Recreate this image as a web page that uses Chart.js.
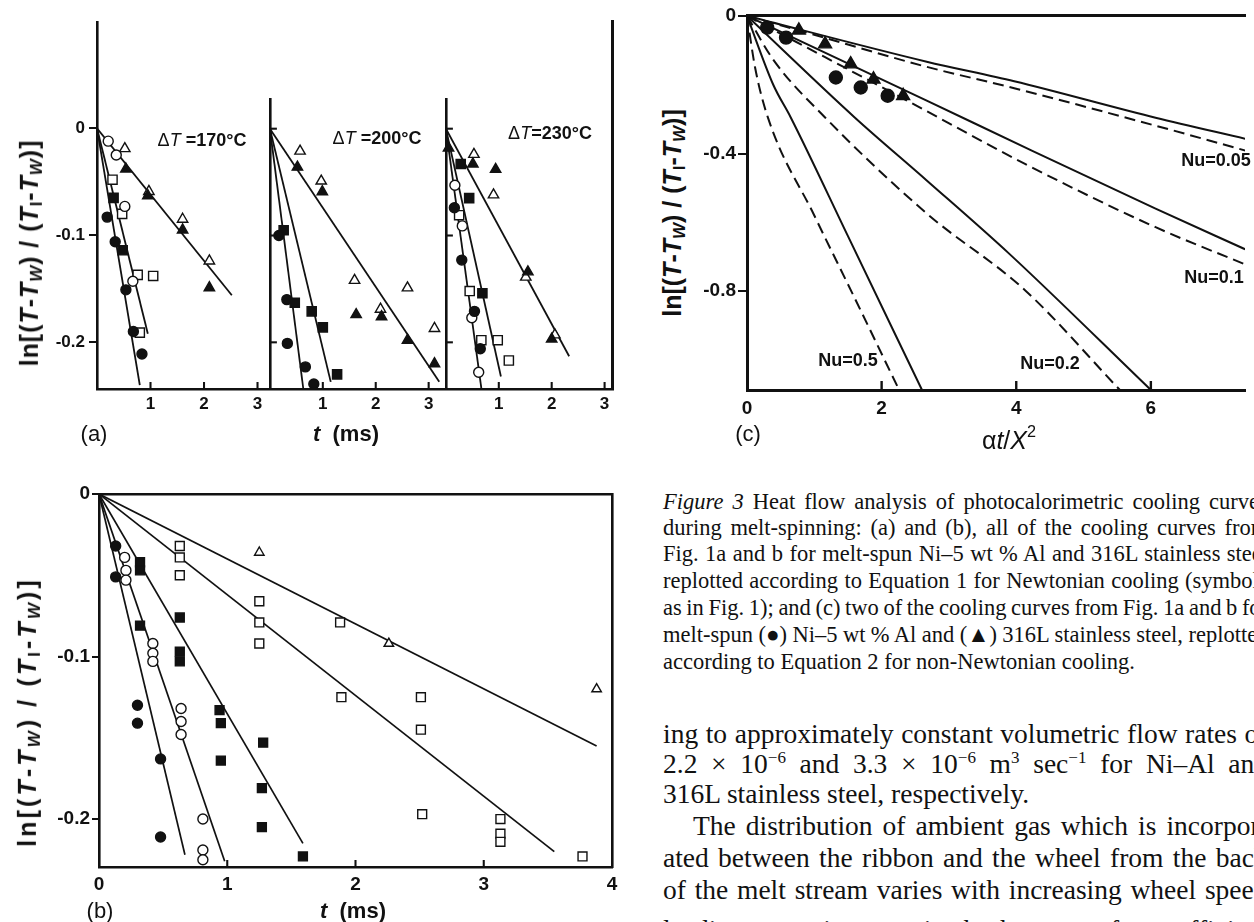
<!DOCTYPE html>
<html>
<head>
<meta charset="utf-8">
<script src="https://cdn.jsdelivr.net/npm/chart.js@4.4.1/dist/chart.umd.min.js"></script>
<style>
  html, body { margin: 0; padding: 0; background: #fff; }
  body { width: 1254px; height: 922px; position: relative; overflow: hidden; color: #111;
         font-family: "Liberation Sans", Arial, sans-serif; }
  canvas { position: absolute; }
  .lbl { position: absolute; white-space: nowrap; line-height: 1; transform: translate(-50%, -50%); font-weight: bold; }
  .ytitle { position: absolute; white-space: nowrap; line-height: 1; font-weight: bold;
            transform: translate(-50%, -50%) rotate(-90deg); }
  .ytitle sub { font-size: 0.68em; vertical-align: -0.25em; }
  .txt { position: absolute; white-space: pre; line-height: 1; font-family: "Liberation Serif", "Times New Roman", serif; }
  .txt sup { font-size: 0.62em; vertical-align: 0.6em; line-height: 0; }
  .frame { position: absolute; background: #111; }
</style>
</head>
<body>

<!-- panel (a) -->
<canvas id="a170"></canvas>
<canvas id="a200"></canvas>
<canvas id="a230"></canvas>
<div class="frame" style="left:611px; top:20px; width:2.5px; height:370px;"></div>
<div class="ytitle" id="ytA" style="left:31px; top:253px; font-size:21px;">ln[(<i>T</i>-<i>T</i><sub><i>W</i></sub>) / (<i>T</i><sub>I</sub>-<i>T</i><sub><i>W</i></sub>)]</div>
<div class="lbl" style="left:202px; top:140px; font-size:18px;"><span style="font-weight:normal">Δ<i>T</i></span> =170°C</div>
<div class="lbl" style="left:377px; top:138px; font-size:18px;"><span style="font-weight:normal">Δ<i>T</i></span> =200°C</div>
<div class="lbl" style="left:550px; top:133px; font-size:18px;"><span style="font-weight:normal">Δ<i>T</i></span>=230°C</div>
<div class="lbl" style="left:94px; top:434px; font-size:22px; font-weight:normal;">(a)</div>
<div class="lbl" style="left:346px; top:434px; font-size:22px;"><i>t</i>&nbsp; (ms)</div>

<!-- panel (b) -->
<canvas id="bchart"></canvas>
<div class="ytitle" id="ytB" style="left:29px; top:712px; font-size:21px;">ln[(<i>T</i>-<i>T</i><sub><i>W</i></sub>) / (<i>T</i><sub>I</sub>-<i>T</i><sub><i>W</i></sub>)]</div>
<div class="lbl" style="left:100px; top:911px; font-size:22px; font-weight:normal;">(b)</div>
<div class="lbl" style="left:353px; top:911px; font-size:22px;"><i>t</i>&nbsp; (ms)</div>

<!-- panel (c) -->
<canvas id="cchart"></canvas>
<div class="ytitle" id="ytC" style="left:674px; top:213px; font-size:21px;">ln[(<i>T</i>-<i>T</i><sub><i>W</i></sub>) / (<i>T</i><sub>I</sub>-<i>T</i><sub><i>W</i></sub>)]</div>
<div class="lbl" style="left:1216px; top:160px; font-size:18px;">Nu=0.05</div>
<div class="lbl" style="left:1214px; top:277px; font-size:18px;">Nu=0.1</div>
<div class="lbl" style="left:1050px; top:363px; font-size:18px;">Nu=0.2</div>
<div class="lbl" style="left:848px; top:360px; font-size:18px;">Nu=0.5</div>
<div class="lbl" style="left:748px; top:434px; font-size:22px; font-weight:normal;">(c)</div>
<div class="lbl" style="left:1009px; top:440px; font-size:25px; font-weight:normal;">α<i>t</i>/<i>X</i><sup style="font-size:0.65em; vertical-align:0.7em; line-height:0">2</sup></div>

<!-- caption and running text -->
<div class="txt cap" data-w="605" style="left:663px; top:491px; font-size:22.5px;"><i>Figure 3</i> Heat flow analysis of photocalorimetric cooling curves</div>
<div class="txt cap" data-w="605" style="left:663px; top:517px; font-size:22.5px;">during melt-spinning: (a) and (b), all of the cooling curves from</div>
<div class="txt cap" data-w="605" style="left:663px; top:543px; font-size:22.5px;">Fig. 1a and b for melt-spun Ni–5 wt % Al and 316L stainless steel</div>
<div class="txt cap" data-w="605" style="left:663px; top:570px; font-size:22.5px;">replotted according to Equation 1 for Newtonian cooling (symbols</div>
<div class="txt cap" data-w="605" style="left:663px; top:597px; font-size:22.5px;">as in Fig. 1); and (c) two of the cooling curves from Fig. 1a and b for</div>
<div class="txt cap" data-w="605" style="left:663px; top:624px; font-size:22.5px;">melt-spun (●) Ni–5 wt % Al and (▲) 316L stainless steel, replotted</div>
<div class="txt" style="left:663px; top:651px; font-size:22.5px;">according to Equation 2 for non-Newtonian cooling.</div>

<div class="txt cap" data-w="605" style="left:663px; top:720px; font-size:27.5px;">ing to approximately constant volumetric flow rates of</div>
<div class="txt cap" data-w="605" style="left:663px; top:750px; font-size:27.5px;">2.2 × 10<sup>−6</sup> and 3.3 × 10<sup>−6</sup> m<sup>3</sup> sec<sup>−1</sup> for Ni–Al and</div>
<div class="txt" style="left:663px; top:780px; font-size:27.5px;">316L stainless steel, respectively.</div>
<div class="txt cap" data-w="575" style="left:693px; top:812px; font-size:27.5px;">The distribution of ambient gas which is incorpor-</div>
<div class="txt cap" data-w="605" style="left:663px; top:844px; font-size:27.5px;">ated between the ribbon and the wheel from the back</div>
<div class="txt cap" data-w="605" style="left:663px; top:876px; font-size:27.5px;">of the melt stream varies with increasing wheel speed</div>
<div class="txt cap" data-w="605" style="left:663px; top:916px; font-size:27.5px;">leading to an increase in the heat transfer coefficient</div>

<script>
// ---------- data: panel (a), t in ms vs ln[(T-Tw)/(TI-Tw)] ----------
// dT = 170 C
const a170_fCircle = [[0.19,-0.083],[0.34,-0.106],[0.54,-0.151],[0.68,-0.190],[0.84,-0.211]];
const a170_oCircle = [[0.21,-0.012],[0.36,-0.025],[0.52,-0.073],[0.67,-0.143]];
const a170_fSquare = [[0.31,-0.065],[0.48,-0.114]];
const a170_oSquare = [[0.29,-0.048],[0.47,-0.080],[0.76,-0.137],[1.05,-0.138],[0.80,-0.191]];
const a170_fTri    = [[0.54,-0.038],[0.95,-0.063],[1.60,-0.095],[2.10,-0.149]];
const a170_oTri    = [[0.52,-0.019],[0.97,-0.059],[1.60,-0.085],[2.10,-0.124]];
const a170_fits    = [[2.52,-0.156],[0.95,-0.192],[0.80,-0.240]];
// dT = 200 C
const a200_fCircle = [[0.17,-0.100],[0.32,-0.160],[0.33,-0.201],[0.67,-0.223],[0.83,-0.239]];
const a200_fSquare = [[0.26,-0.095],[0.47,-0.163],[0.79,-0.171],[1.00,-0.186],[1.27,-0.230]];
const a200_fTri    = [[0.52,-0.036],[0.99,-0.059],[1.63,-0.174],[2.11,-0.176],[2.60,-0.198],[3.11,-0.220]];
const a200_oTri    = [[0.57,-0.021],[0.97,-0.049],[1.60,-0.142],[2.09,-0.169],[2.60,-0.149],[3.11,-0.187]];
const a200_fits    = [[3.20,-0.237],[1.15,-0.237],[0.63,-0.243]];
// dT = 230 C
const a230_fCircle = [[0.16,-0.074],[0.30,-0.123],[0.54,-0.171],[0.65,-0.206]];
const a230_oCircle = [[0.17,-0.053],[0.31,-0.091],[0.49,-0.177],[0.62,-0.228]];
const a230_fSquare = [[0.28,-0.033],[0.44,-0.065],[0.69,-0.154]];
const a230_oSquare = [[0.25,-0.081],[0.45,-0.152],[0.67,-0.198],[0.98,-0.198],[1.19,-0.217]];
const a230_fTri    = [[0.05,-0.018],[0.51,-0.033],[0.94,-0.038],[1.55,-0.134],[2.00,-0.197]];
const a230_oTri    = [[0.53,-0.024],[0.90,-0.062],[1.51,-0.139],[2.06,-0.193]];
const a230_fits    = [[2.33,-0.213],[1.04,-0.232],[0.67,-0.243]];
const a_xTicks = [1, 2, 3];
const a_yTicks = [0, -0.1, -0.2];

// ---------- data: panel (b) ----------
const b_fCircle = [[0.13,-0.032],[0.13,-0.051],[0.30,-0.130],[0.30,-0.141],[0.48,-0.163],[0.48,-0.211]];
const b_oCircle = [[0.20,-0.039],[0.21,-0.047],[0.21,-0.053],[0.42,-0.092],[0.42,-0.098],[0.42,-0.103],
                   [0.64,-0.132],[0.64,-0.140],[0.64,-0.148],[0.81,-0.200],[0.81,-0.219],[0.81,-0.225]];
const b_fSquare = [[0.32,-0.042],[0.32,-0.047],[0.32,-0.081],[0.63,-0.076],[0.63,-0.097],[0.63,-0.103],
                   [0.94,-0.133],[0.95,-0.141],[0.95,-0.164],[1.28,-0.153],[1.27,-0.181],[1.27,-0.205],[1.59,-0.223]];
const b_oSquare = [[0.63,-0.032],[0.63,-0.039],[0.63,-0.050],[1.25,-0.066],[1.25,-0.079],[1.25,-0.092],
                   [1.88,-0.079],[1.89,-0.125],[2.51,-0.125],[2.51,-0.145],[2.52,-0.197],
                   [3.13,-0.200],[3.13,-0.209],[3.13,-0.214],[3.77,-0.223]];
const b_oTri    = [[1.25,-0.036],[2.26,-0.092],[3.88,-0.120]];
const b_fits    = [[3.88,-0.155],[3.55,-0.220],[1.59,-0.215],[0.98,-0.226],[0.67,-0.222]];
const b_xTicks = [0, 1, 2, 3, 4];
const b_yTicks = [0, -0.1, -0.2];

// ---------- data: panel (c), alpha t / X^2 ----------
const c_fCircle = [[0.30,-0.034],[0.58,-0.063],[1.32,-0.179],[1.69,-0.208],[2.09,-0.232]];
const c_fTri    = [[0.77,-0.042],[1.16,-0.082],[1.54,-0.140],[1.88,-0.184],[2.32,-0.232]];
const nu005_solid = [[0,0],[2.67,-0.133],[3.97,-0.190],[6.07,-0.296],[7.40,-0.357]];
const nu005_dash  = [[0,0],[0.77,-0.042],[2.67,-0.148],[3.97,-0.210],[6.07,-0.319],[7.40,-0.391]];
const nu01_solid  = [[0,0],[2.67,-0.246],[4.13,-0.382],[6.07,-0.560],[7.40,-0.678]];
const nu01_dash   = [[0,0],[1.16,-0.120],[2.32,-0.240],[4.13,-0.430],[6.07,-0.614],[7.40,-0.722]];
const nu02_solid  = [[0,0],[1.60,-0.295],[2.67,-0.478],[3.89,-0.690],[6.00,-1.087]];
const nu02_dash   = [[0,0],[0.40,-0.130],[1.16,-0.295],[2.67,-0.574],[4.13,-0.797],[5.54,-1.087]];
const nu05_solid  = [[0,0],[0.39,-0.200],[0.65,-0.295],[1.50,-0.640],[2.60,-1.087]];
const nu05_dash   = [[0,0],[0.12,-0.150],[0.31,-0.295],[1.00,-0.580],[1.60,-0.820],[2.26,-1.087]];
const c_xTicks = [0, 2, 4, 6];
const c_yTicks = [0, -0.4, -0.8];

// ---------- helpers ----------
const K = '#111';
const FAMILY = 'Liberation Sans, Arial, sans-serif';

function pts(arr) {
    return arr.map(p => ({ x: p[0], y: p[1] }));
}

// marker series (open or filled circle / square / triangle)
function marks(arr, style, filled, r) {
    return {
        data: pts(arr), showLine: false, clip: false,
        pointStyle: style, pointRadius: r, pointHoverRadius: r,
        pointBackgroundColor: filled ? K : '#fff', pointBorderColor: K, pointBorderWidth: 1.4
    };
}

// straight fitted lines, all starting from the origin
function fits(ends, w) {
    return ends.map(e => ({
        data: [{ x: 0, y: 0 }, { x: e[0], y: e[1] }],
        showLine: true, pointRadius: 0, borderColor: K, borderWidth: w
    }));
}

function curve(arr, dashed) {
    return {
        data: pts(arr), showLine: true, pointRadius: 0, borderColor: K, borderWidth: 2,
        borderDash: dashed ? [11, 6] : [], cubicInterpolationMode: 'monotone'
    };
}

// ticks drawn towards the inside of the plot
const innerTicks = {
    id: 'innerTicks',
    afterDraw(chart, args, opts) {
        const ctx = chart.ctx;
        const area = chart.chartArea;
        ctx.save();
        ctx.strokeStyle = K;
        ctx.lineWidth = opts.width;
        (opts.x || []).forEach(v => {
            const px = chart.scales.x.getPixelForValue(v);
            ctx.beginPath();
            ctx.moveTo(px, area.bottom);
            ctx.lineTo(px, area.bottom - opts.len);
            ctx.stroke();
        });
        (opts.y || []).forEach(v => {
            const py = chart.scales.y.getPixelForValue(v);
            ctx.beginPath();
            ctx.moveTo(area.left, py);
            ctx.lineTo(area.left + opts.len, py);
            ctx.stroke();
        });
        ctx.restore();
    }
};

function fixSize(w, h) {
    return s => {
        if (w !== null) s.width = w;
        if (h !== null) s.height = h;
        s.paddingLeft = s.paddingRight = s.paddingTop = s.paddingBottom = 0;
    };
}

function yLabel(v) {
    return v === 0 ? '0' : '-' + Math.abs(v).toFixed(1);
}

function panel(p) {
    const c = document.getElementById(p.id);
    c.width = p.axL + p.plot.w + p.padR;
    c.height = p.padT + p.plot.h + p.axB;
    c.style.left = (p.plot.x - p.axL) + 'px';
    c.style.top = (p.plot.y - p.padT) + 'px';

    const font = { family: FAMILY, weight: 'bold', size: p.fontSize };
    const scales = {
        x: {
            type: 'linear', min: p.xMin, max: p.xMax,
            afterBuildTicks: s => { s.ticks = p.xTicks.map(v => ({ value: v })); },
            ticks: { display: p.xLabels, font: font, color: K, padding: p.xPad, maxRotation: 0, autoSkip: false,
                     callback: v => String(v) },
            grid: { display: true, drawOnChartArea: false, drawTicks: false },
            border: { display: true, color: K, width: p.bw },
            afterFit: fixSize(null, p.axB)
        },
        y: {
            type: 'linear', min: p.yMin, max: p.yMax,
            afterBuildTicks: s => { s.ticks = p.yTicks.map(v => ({ value: v })); },
            ticks: { display: p.yLabels, font: font, color: K, padding: p.yPad, autoSkip: false, callback: yLabel },
            grid: { display: true, drawOnChartArea: false, drawTicks: p.yOut > 0, tickLength: p.yOut,
                    color: K, lineWidth: 2 },
            border: { display: true, color: K, width: p.bw },
            afterFit: fixSize(p.axL, null)
        }
    };
    if (p.frameTop) {
        scales.xTop = {
            type: 'linear', position: 'top', display: true, min: p.xMin, max: p.xMax,
            ticks: { display: false }, grid: { display: false, drawTicks: false },
            border: { display: true, color: K, width: p.bw }, afterFit: fixSize(null, 0)
        };
    }
    if (p.frameRight) {
        scales.yRight = {
            type: 'linear', position: 'right', display: true, min: p.yMin, max: p.yMax,
            ticks: { display: false }, grid: { display: false, drawTicks: false },
            border: { display: true, color: K, width: p.bw }, afterFit: fixSize(0, null)
        };
    }
    return new Chart(c, {
        type: 'scatter',
        data: { datasets: p.datasets },
        options: {
            responsive: false, animation: false, devicePixelRatio: 1,
            layout: { padding: { top: p.padT, right: p.padR, left: 0, bottom: 0 } },
            plugins: {
                legend: { display: false }, tooltip: { enabled: false },
                innerTicks: { x: p.inX, y: p.inY, len: p.inLen, width: p.bw * 0.8 }
            },
            scales: scales
        },
        plugins: [innerTicks]
    });
}

// ---------- panel (a) ----------
const aCommon = { axB: 40, padT: 6, padR: 8, fontSize: 17, xPad: 5, bw: 2.6, xTicks: a_xTicks, yTicks: a_yTicks,
                  xLabels: true, inX: a_xTicks, inLen: 7, xMin: 0, yMin: -0.2437 };

panel(Object.assign({}, aCommon, {
    id: 'a170', plot: { x: 97, y: 20, w: 171, h: 369 }, axL: 60, xMax: 3.196, yMax: 0.0995,
    yLabels: true, yPad: 4, yOut: 8, inY: [],
    datasets: [
        marks(a170_fCircle, 'circle', true, 5), marks(a170_oCircle, 'circle', false, 5),
        marks(a170_fSquare, 'rect', true, 6.5), marks(a170_oSquare, 'rect', false, 6.5),
        marks(a170_fTri, 'triangle', true, 6), marks(a170_oTri, 'triangle', false, 6)
    ].concat(fits(a170_fits, 1.8))
}));

panel(Object.assign({}, aCommon, {
    id: 'a200', plot: { x: 268, y: 97, w: 176, h: 292 }, axL: 6, xMax: 3.29, yMax: 0.0279,
    yLabels: false, yPad: 0, yOut: 0, inY: a_yTicks,
    datasets: [
        marks(a200_fCircle, 'circle', true, 5), marks(a200_fSquare, 'rect', true, 6.5),
        marks(a200_fTri, 'triangle', true, 6), marks(a200_oTri, 'triangle', false, 6)
    ].concat(fits(a200_fits, 1.8))
}));

panel(Object.assign({}, aCommon, {
    id: 'a230', plot: { x: 444, y: 97, w: 169, h: 292 }, axL: 6, xMax: 3.159, yMax: 0.0279,
    yLabels: false, yPad: 0, yOut: 0, inY: a_yTicks,
    datasets: [
        marks(a230_fCircle, 'circle', true, 5), marks(a230_oCircle, 'circle', false, 5),
        marks(a230_fSquare, 'rect', true, 6.5), marks(a230_oSquare, 'rect', false, 6.5),
        marks(a230_fTri, 'triangle', true, 6), marks(a230_oTri, 'triangle', false, 6)
    ].concat(fits(a230_fits, 1.8))
}));

// ---------- panel (b) ----------
panel({
    id: 'bchart', plot: { x: 99, y: 494, w: 513, h: 373 }, axL: 60, axB: 40, padT: 8, padR: 12,
    xMin: 0, xMax: 4, yMin: -0.2295, yMax: 0, xTicks: b_xTicks, yTicks: b_yTicks,
    xLabels: true, yLabels: true, fontSize: 19, xPad: 6, yPad: 2, yOut: 7, bw: 2.6,
    inX: [1, 2, 3], inY: [], inLen: 7, frameTop: true, frameRight: true,
    datasets: [
        marks(b_fCircle, 'circle', true, 5), marks(b_oCircle, 'circle', false, 5),
        marks(b_fSquare, 'rect', true, 6.3), marks(b_oSquare, 'rect', false, 6.3),
        marks(b_oTri, 'triangle', false, 5.5)
    ].concat(fits(b_fits, 1.7))
});

// ---------- panel (c) ----------
panel({
    id: 'cchart', plot: { x: 747, y: 15, w: 507, h: 375 }, axL: 50, axB: 40, padT: 8, padR: 0,
    xMin: 0, xMax: 7.4, yMin: -1.087, yMax: 0, xTicks: c_xTicks, yTicks: c_yTicks,
    xLabels: true, yLabels: true, fontSize: 19, xPad: 7, yPad: 2, yOut: 9, bw: 3,
    inX: [2, 4, 6], inY: [], inLen: 9, frameTop: true, frameRight: false,
    datasets: [
        marks(c_fCircle, 'circle', true, 6.5), marks(c_fTri, 'triangle', true, 7.5),
        curve(nu005_solid, false), curve(nu005_dash, true),
        curve(nu01_solid, false), curve(nu01_dash, true),
        curve(nu02_solid, false), curve(nu02_dash, true),
        curve(nu05_solid, false), curve(nu05_dash, true)
    ]
});

// ---------- text fitting ----------
// grow the rotated axis titles to the length seen in the figure (font first, then spacing)
[['ytA', 227], ['ytB', 270], ['ytC', 207]].forEach(([id, len]) => {
    const el = document.getElementById(id);
    const fs = Math.min(25, 21 * len / el.offsetWidth);
    el.style.fontSize = fs + 'px';
    const n = el.textContent.length;
    el.style.letterSpacing = Math.max(0, (len - el.offsetWidth) / n) + 'px';
});

// justified lines of the caption and body text
document.querySelectorAll('.cap').forEach(el => {
    const w = Number(el.dataset.w);
    const spaces = (el.textContent.match(/ /g) || []).length;
    if (spaces) el.style.wordSpacing = ((w - el.offsetWidth) / spaces) + 'px';
});
</script>
</body>
</html>
